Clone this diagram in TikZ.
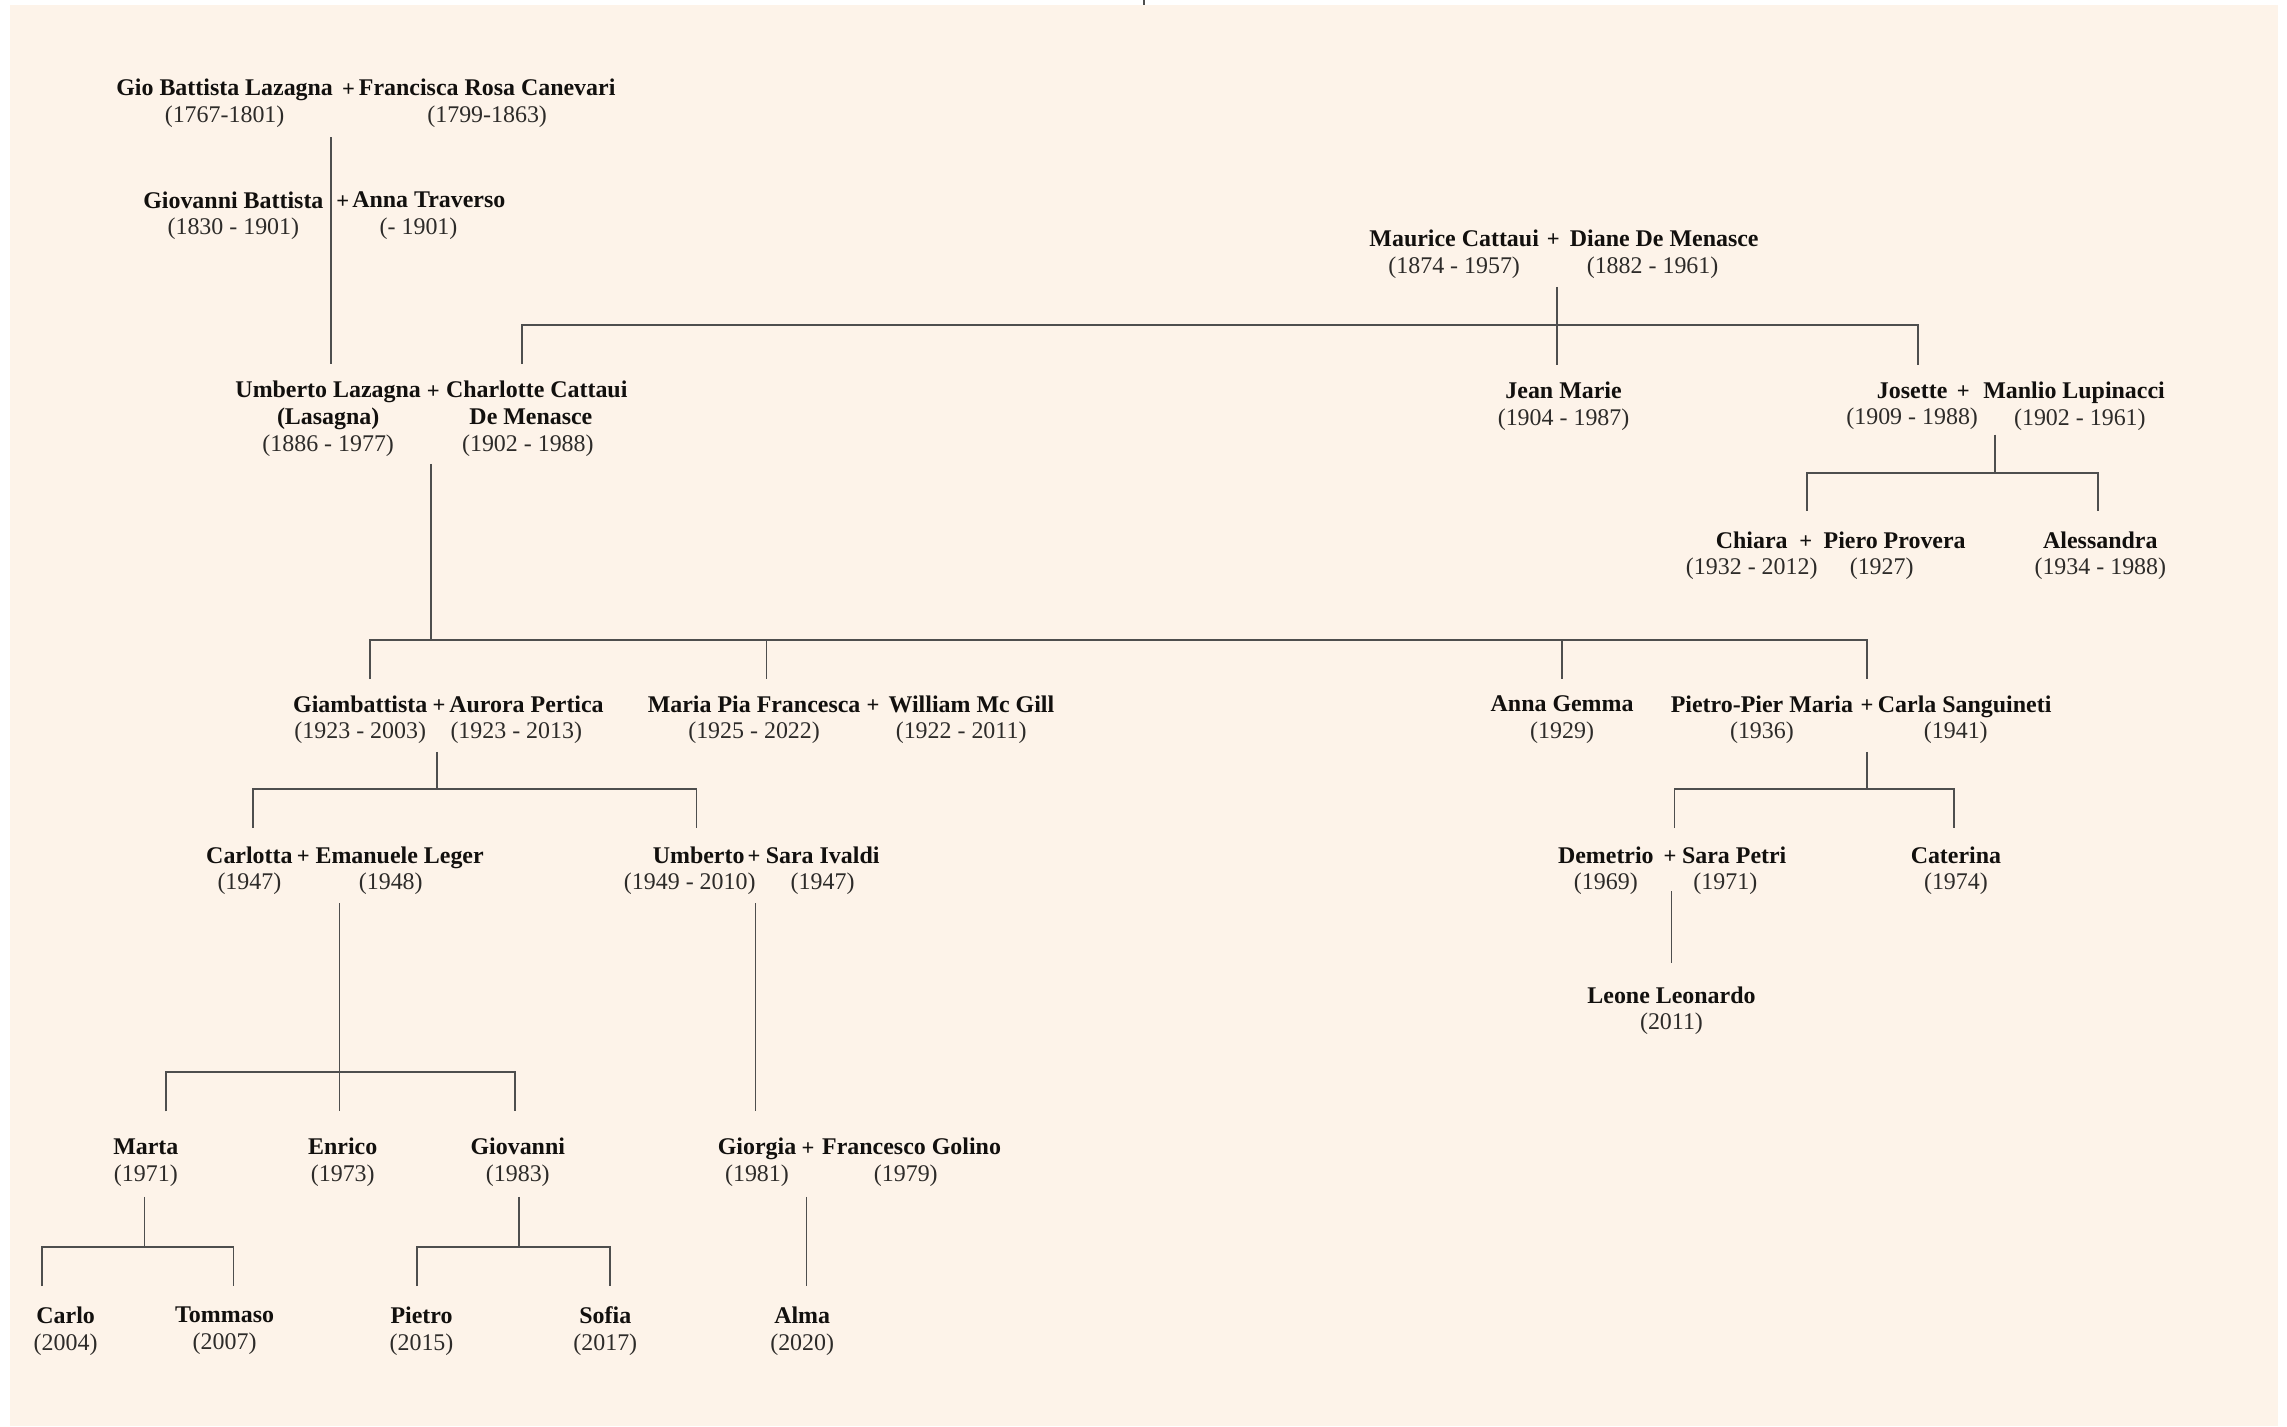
\documentclass[tikz,border=0pt]{standalone}
\usepackage{fontspec}
\setmainfont{Liberation Serif}
\definecolor{bgcol}{RGB}{253,243,233}
\definecolor{linecol}{RGB}{78,78,78}
\definecolor{namecol}{RGB}{18,16,14}
\definecolor{datecol}{RGB}{45,43,41}
\newcommand\famfs{\fontsize{7}{7.8}\selectfont}
\newcommand\pname[1]{{\bfseries\color{namecol}#1}}
% a line shifted sideways by #1 without changing the node width
\newcommand\dsh[2]{\makebox[0pt]{\hspace*{#1}#2\hspace*{-#1}}}
\begin{document}
\begin{tikzpicture}[x=0.015cm,y=-0.015cm,
  link/.style={draw=linecol,line width=0.5pt},
  person/.style={align=center,inner sep=0pt,font=\famfs,text=datecol},
  plus/.style={inner sep=0pt,font=\fontsize{6.6}{7}\selectfont\bfseries,text=namecol}]
\useasboundingbox (0,0) rectangle (1568,977.7);
\fill[bgcol] (6.9,3.4) rectangle (1561.9,977.7);
% stray tick at the top edge
\coordinate (tick0) at (784.2,0); \coordinate (tick1) at (784.2,3.4);
\draw[draw=linecol,line width=0.6pt] (tick0) -- (tick1);

% ---------- Lazagna ancestors ----------
\node[person] (gbl) at (154,71) {\pname{Gio Battista Lazagna}\\(1767-1801)};
\node[plus] (pA) at (239,61.5) {+};
\node[person] (frc) at (334,71) {\pname{Francisca Rosa Canevari}\\(1799-1863)};

\node[person] (gb) at (160,148) {\pname{Giovanni Battista}\\(1830 - 1901)};
\node[plus] (pB) at (235,138.5) {+};
\node[person] (at) at (294,148) {\pname{Anna Traverso}\\\dsh{-3pt}{(- 1901)}};

\node[person] (ul) at (225,287) {\pname{Umberto Lazagna}\\\pname{(Lasagna)}\\(1886 - 1977)};
\node[plus] (pC) at (297,268.5) {+};
\node[person] (cc) at (368,287) {\pname{Charlotte Cattaui}\\\dsh{-1.7pt}{\pname{De Menasce}}\\\dsh{-2.6pt}{(1902 - 1988)}};

% ---------- Cattaui ----------
\node[person] (mc) at (997,174.5) {\pname{Maurice Cattaui}\\(1874 - 1957)};
\node[plus] (pM) at (1065,164.5) {+};
\node[person] (ddm) at (1141,174.5) {\pname{Diane De Menasce}\\\dsh{-3.4pt}{(1882 - 1961)}};

\node[person] (jm) at (1072,278.5) {\pname{Jean Marie}\\(1904 - 1987)};
\node[person] (jo) at (1311,278.5) {\pname{Josette}\\(1909 - 1988)};
\node[plus] (pJ) at (1346,269) {+};
\node[person] (ml) at (1422,278.5) {\pname{Manlio Lupinacci}\\\dsh{1.7pt}{(1902 - 1961)}};

\node[person] (ch) at (1201,381) {\pname{Chiara}\\(1932 - 2012)};
\node[plus] (pK) at (1238,371.5) {+};
\node[person] (pp) at (1299,381) {\pname{Piero Provera}\\\dsh{-3.8pt}{(1927)}};
\node[person] (al) at (1440,381) {\pname{Alessandra}\\(1934 - 1988)};

% ---------- children of Umberto + Charlotte ----------
\node[person] (gi) at (247,493.5) {\pname{Giambattista}\\(1923 - 2003)};
\node[plus] (pD1) at (301,484.2) {+};
\node[person] (ap) at (361,493.5) {\pname{Aurora Pertica}\\\dsh{-3pt}{(1923 - 2013)}};
\node[person] (mp) at (517,493.5) {\pname{Maria Pia Francesca}\\(1925 - 2022)};
\node[plus] (pD2) at (598.5,484.2) {+};
\node[person] (wm) at (666,493.5) {\pname{William Mc Gill}\\\dsh{-3pt}{(1922 - 2011)}};
\node[person] (ag) at (1071,493.5) {\pname{Anna Gemma}\\(1929)};
\node[person] (ppm) at (1208,493.5) {\pname{Pietro-Pier Maria}\\(1936)};
\node[plus] (pD3) at (1280,484.2) {+};
\node[person] (cs) at (1347,493.5) {\pname{Carla Sanguineti}\\\dsh{-2.6pt}{(1941)}};

% ---------- next generation ----------
\node[person] (ca) at (171,597) {\pname{Carlotta}\\(1947)};
\node[plus] (pE1) at (208,587.7) {+};
\node[person] (el) at (274,597) {\pname{Emanuele Leger}\\\dsh{-2.6pt}{(1948)}};
\node[person] (um) at (479,597) {\pname{Umberto}\\\dsh{-2.6pt}{(1949 - 2010)}};
\node[plus] (pE2) at (517,587.7) {+};
\node[person] (si) at (564,597) {\pname{Sara Ivaldi}\\(1947)};
\node[person] (de) at (1101,597) {\pname{Demetrio}\\(1969)};
\node[plus] (pE3) at (1145,587.7) {+};
\node[person] (sp) at (1189,597) {\pname{Sara Petri}\\\dsh{-2.6pt}{(1971)}};
\node[person] (cat) at (1341,597) {\pname{Caterina}\\(1974)};

\node[person] (le) at (1146,693) {\pname{Leone Leonardo}\\(2011)};

\node[person] (ma) at (100,797) {\pname{Marta}\\(1971)};
\node[person] (en) at (235,797) {\pname{Enrico}\\(1973)};
\node[person] (gv) at (355,797) {\pname{Giovanni}\\(1983)};
\node[person] (gg) at (519,797) {\pname{Giorgia}\\(1981)};
\node[plus] (pG) at (554,787.7) {+};
\node[person] (fg) at (625,797) {\pname{Francesco Golino}\\\dsh{-1.7pt}{(1979)}};

\node[person] (carlo) at (45,912.5) {\pname{Carlo}\\(2004)};
\node[person] (tommaso) at (154,912.5) {\pname{Tommaso}\\(2007)};
\node[person] (pietro) at (289,912.5) {\pname{Pietro}\\(2015)};
\node[person] (sofia) at (415,912.5) {\pname{Sofia}\\(2017)};
\node[person] (alma) at (550,912.5) {\pname{Alma}\\(2020)};

% ---------- connectors ----------
% Gio Battista -> Umberto
\coordinate (A0) at (227,94); \coordinate (A1) at (227,249.6);
\draw[link] (A0) -- (A1);
% Maurice + Diane -> Charlotte, Jean Marie, Josette
\coordinate (M0) at (1067.6,196.6); \coordinate (M1) at (1067.6,250);
\coordinate (MbL) at (358,222.8); \coordinate (MbR) at (1315,222.8);
\coordinate (MdL) at (358,249.6); \coordinate (MdR) at (1315,250);
\draw[link] (M0) -- (M1);
\draw[link] (MdL) -- (MbL) -- (MbR) -- (MdR);
% Josette + Manlio -> Chiara, Alessandra
\coordinate (J0) at (1368,298); \coordinate (J1) at (1368,324.5);
\coordinate (JbL) at (1239,324.5); \coordinate (JbR) at (1438.6,324.5);
\coordinate (JdL) at (1239,350); \coordinate (JdR) at (1438.6,350);
\draw[link] (J0) -- (J1);
\draw[link] (JdL) -- (JbL) -- (JbR) -- (JdR);
% Umberto + Charlotte -> four children
\coordinate (U0) at (295.5,318); \coordinate (U1) at (295.5,438.8);
\coordinate (UbL) at (253.7,438.8); \coordinate (UbR) at (1279.8,438.8);
\coordinate (UdL) at (253.7,465.6); \coordinate (UdR) at (1279.8,465.6);
\coordinate (Ub2) at (525.6,438.8); \coordinate (Ud2) at (525.6,465.6);
\coordinate (Ub3) at (1071,438.8); \coordinate (Ud3) at (1071,465.6);
\draw[link] (U0) -- (U1);
\draw[link] (UdL) -- (UbL) -- (UbR) -- (UdR);
\draw[link] (Ub2) -- (Ud2);
\draw[link] (Ub3) -- (Ud3);
% Giambattista + Aurora -> Carlotta, Umberto
\coordinate (G0) at (299.6,515.5); \coordinate (G1) at (299.6,541);
\coordinate (GbL) at (173.4,541); \coordinate (GbR) at (477.6,541);
\coordinate (GdL) at (173.4,567.7); \coordinate (GdR) at (477.6,567.7);
\draw[link] (G0) -- (G1);
\draw[link] (GdL) -- (GbL) -- (GbR) -- (GdR);
% Pietro-Pier + Carla -> Demetrio, Caterina
\coordinate (P0) at (1280,515.5); \coordinate (P1) at (1280,541);
\coordinate (PbL) at (1148,541); \coordinate (PbR) at (1339.5,541);
\coordinate (PdL) at (1148,567.7); \coordinate (PdR) at (1339.5,567.7);
\draw[link] (P0) -- (P1);
\draw[link] (PdL) -- (PbL) -- (PbR) -- (PdR);
% Demetrio -> Leone Leonardo
\coordinate (D0) at (1146,611); \coordinate (D1) at (1146,660);
\draw[link] (D0) -- (D1);
% Carlotta + Emanuele -> Marta, Enrico, Giovanni
\coordinate (C0) at (232.8,619.3); \coordinate (C1) at (232.8,762);
\coordinate (CbL) at (114,735); \coordinate (CbR) at (353,735);
\coordinate (CdL) at (114,762); \coordinate (CdR) at (353,762);
\draw[link] (C0) -- (C1);
\draw[link] (CdL) -- (CbL) -- (CbR) -- (CdR);
% Umberto + Sara -> Giorgia
\coordinate (V0) at (518,619.3); \coordinate (V1) at (518,762);
\draw[link] (V0) -- (V1);
% Marta -> Carlo, Tommaso
\coordinate (K0) at (99,820.5); \coordinate (K1) at (99,854.8);
\coordinate (KbL) at (29,854.8); \coordinate (KbR) at (160,854.8);
\coordinate (KdL) at (29,881.7); \coordinate (KdR) at (160,881.7);
\draw[link] (K0) -- (K1);
\draw[link] (KdL) -- (KbL) -- (KbR) -- (KdR);
% Giovanni -> Pietro, Sofia
\coordinate (S0) at (356,820.5); \coordinate (S1) at (356,854.8);
\coordinate (SbL) at (286,854.8); \coordinate (SbR) at (418,854.8);
\coordinate (SdL) at (286,881.7); \coordinate (SdR) at (418,881.7);
\draw[link] (S0) -- (S1);
\draw[link] (SdL) -- (SbL) -- (SbR) -- (SdR);
% Giorgia -> Alma
\coordinate (W0) at (553,820.5); \coordinate (W1) at (553,881.7);
\draw[link] (W0) -- (W1);
\end{tikzpicture}
\end{document}
